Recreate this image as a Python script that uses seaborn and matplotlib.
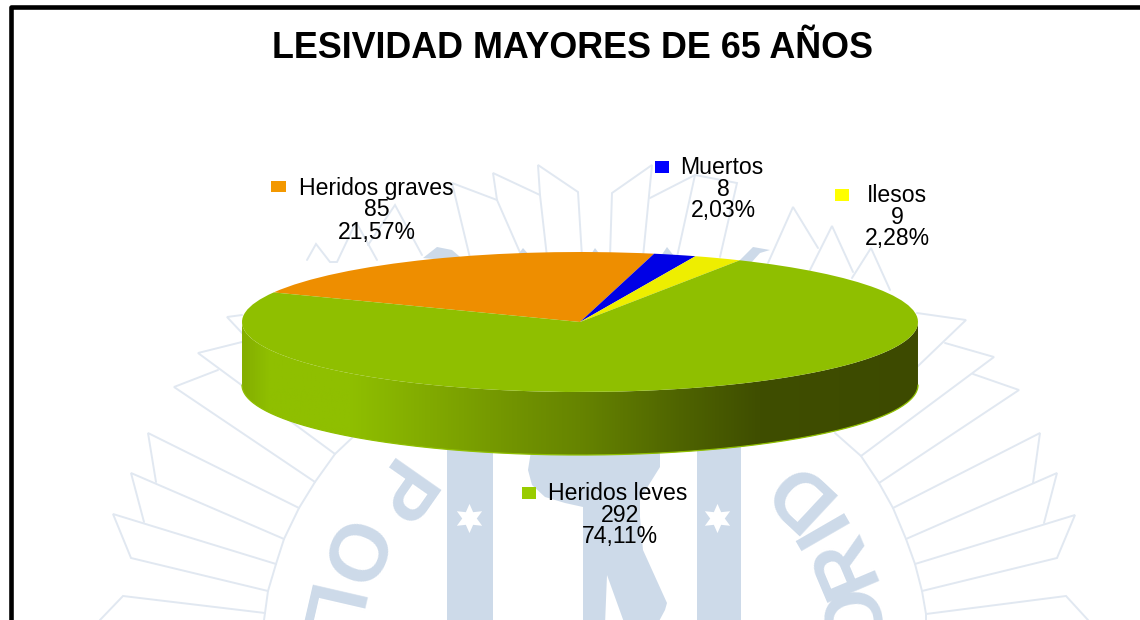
import numpy as np
import seaborn as sns
import matplotlib
matplotlib.use("Agg")
import matplotlib.pyplot as plt
from matplotlib.colors import LinearSegmentedColormap
from matplotlib.patches import PathPatch, Polygon, Rectangle
from matplotlib.path import Path

# ---- data ----
categories = ["Heridos graves", "Muertos", "Ilesos", "Heridos leves"]
counts = [85, 8, 9, 292]
title = "LESIVIDAD MAYORES DE 65 AÑOS"
colors = ["#EE8E00", "#0000E6", "#EEEE00", "#8FBF00"]
key_colors = ["#F39800", "#0000FF", "#FFFF00", "#99CC00"]

sns.set_theme(style="white")
plt.rcParams["font.family"] = ["Liberation Sans", "DejaVu Sans"]
palette = sns.color_palette(colors)
key_palette = sns.color_palette(key_colors)

W, H = 1140, 620
fig = plt.figure(figsize=(W / 100, H / 100), dpi=100, facecolor="white")

# ---- watermark and frame, in pixel coordinates ----
bg = fig.add_axes([0, 0, 1, 1], zorder=0)
bg.set_xlim(0, W)
bg.set_ylim(H, 0)
bg.axis("off")
LINE = "#E1E8F1"
BLUE = "#CDDAE9"
rays = [
    [(242, 315), (227, 317), (242, 333)],
    [(242, 342), (198, 353), (335, 454)],
    [(218, 370), (174, 387), (315, 482)],
    [(156, 482), (148, 433), (299, 508)],
    [(144, 522), (131, 473), (284, 539)],
    [(268, 591), (131, 558), (113, 514), (276, 564)],
    [(100, 620), (123, 596), (265, 613)],
    [(353, 437), (335, 454), (315, 482), (299, 508), (284, 539), (276, 564),
     (268, 591), (265, 613), (264, 620)],
    [(917, 313), (966, 320), (917, 367)],
    [(945, 343), (994, 357), (861, 456)],
    [(973, 374), (1019, 390), (879, 483)],
    [(1033, 483), (1040, 433), (893, 508)],
    [(1044, 523), (1057, 473), (906, 539)],
    [(922, 591), (1057, 558), (1075, 515), (915, 564)],
    [(1088, 620), (1066, 596), (926, 614)],
    [(835, 433), (861, 456), (879, 483), (893, 508), (906, 539), (915, 564),
     (922, 591), (926, 614), (926, 620)],
    [(307, 260), (316, 244), (330, 262), (337, 262), (356, 222), (377, 260)],
    [(368, 245), (395, 205), (422, 255)],
    [(470, 258), (452, 183), (497, 200), (493, 173), (540, 195), (538, 165),
     (578, 192), (582, 257)],
    [(497, 200), (522, 257)],
    [(540, 195), (547, 257)],
    [(610, 257), (612, 193), (652, 165), (643, 257)],
    [(650, 198), (695, 175), (677, 257)],
    [(695, 175), (737, 183), (720, 257)],
    [(768, 263), (793, 207), (818, 248)],
    [(810, 270), (832, 226), (853, 272)],
    [(852, 278), (871, 248), (890, 290)],
]
for r in rays:
    xs, ys = zip(*r)
    bg.plot(xs, ys, color=LINE, lw=1.4, solid_joinstyle="miter", zorder=1)

bg.add_patch(Rectangle((447, 440), 46, 190, color=BLUE, lw=0, zorder=1))
bg.add_patch(Rectangle((697, 440), 44, 190, color=BLUE, lw=0, zorder=1))
bg.add_patch(Polygon([(532, 445), (528, 470), (532, 485), (545, 497), (565, 503), (583, 507),
                      (583, 625), (605, 625), (607, 575), (625, 625), (657, 625),
                      (665, 610), (667, 603), (643, 550), (640, 517), (640, 500),
                      (650, 483), (660, 467), (660, 445)], color=BLUE, lw=0, zorder=1))
for poly in ([(423, 258), (437, 247), (452, 250), (466, 262)],
             [(738, 262), (753, 247), (770, 250), (760, 253), (750, 264)],
             [(517, 256), (523, 248), (530, 256)],
             [(590, 256), (595, 248), (601, 256)],
             [(661, 256), (667, 247), (674, 256)]):
    bg.add_patch(Polygon(poly, color=BLUE, lw=0, zorder=1))
for sx in (469, 717):
    bg.plot([sx], [518], marker=(6, 1, 0), ms=21, color="white", mew=0, zorder=2)
for ch, cx, cy, rot in [("P", 391, 490, -125), ("O", 347, 551, -113), ("L", 322, 612, -103),
                        ("D", 798, 490, 137), ("I", 822, 523, 120), ("R", 843, 562, 113),
                        ("O", 858, 615, 100)]:
    bg.text(cx, cy, ch, color=BLUE, fontsize=58, fontweight="bold", rotation=rot,
            ha="center", va="center", rotation_mode="anchor", zorder=1)
bg.plot([1140, 11, 11], [7, 7, 620], color="black", lw=3.3,
        solid_joinstyle="round", solid_capstyle="butt", zorder=3, clip_on=False)

# ---- pie: one data unit is the ellipse radius on each axis ----
CX, CY, RX, RY, DEPTH = 580, 322, 338, 70, 63
ax = fig.add_axes([0, 0, 1, 1], zorder=1)
ax.patch.set_alpha(0)
ax.pie(counts, colors=palette, startangle=155, counterclock=False, radius=1,
       wedgeprops=dict(linewidth=0, zorder=3))
ax.axis("off")

# side wall with its shading
d = DEPTH / RY
t = np.linspace(np.pi, 2 * np.pi, 240)
top_x, top_y = np.cos(t), np.sin(t)
verts = np.r_[np.c_[top_x, top_y], np.c_[top_x[::-1], top_y[::-1] - d], [[top_x[0], top_y[0]]]]
wall = Path(verts)
stops = [(242, "#84AE00"), (268, "#8FBF00"), (349, "#8FBF00"), (436, "#80A800"),
         (527, "#6F9000"), (580, "#668400"), (679, "#4F6400"), (759, "#3F4E00"),
         (918, "#3D4A00")]
cmap = LinearSegmentedColormap.from_list(
    "wall", [((x - 242) / (918 - 242), c) for x, c in stops])
im = ax.imshow(np.linspace(0, 1, 512)[None, :], cmap=cmap, aspect="auto",
               extent=(-1, 1, -1 - d, 0), zorder=2, interpolation="bilinear")
im.set_clip_path(PathPatch(wall, transform=ax.transData))
ax.plot(top_x, top_y - d, color="#8FBF00", lw=0.9, zorder=2.5)
ax.set_aspect("auto")
ax.set_xlim((0 - CX) / RX, (W - CX) / RX)
ax.set_ylim((CY - H) / RY, CY / RY)

# ---- texts ----
fg = fig.add_axes([0, 0, 1, 1], zorder=2)
fg.set_xlim(0, W)
fg.set_ylim(H, 0)
fg.axis("off")
fg.text(573, 58, title, fontsize=25.8, fontweight="bold", color="black",
        ha="center", va="baseline")
total = sum(counts)
LABEL = 16.6
layout = [  # name x-centre, name y, value x-centre, value y, pct y, marker box
    (376.5, 189, 377, 210, 232, (271, 181, 15, 11)),
    (722, 168, 723, 189, 211, (655, 161, 14, 12)),
    (897, 196, 897, 217, 239, (835, 189, 14, 12)),
    (618, 494, 620, 515, 537, (522, 487, 14, 12)),
]
for name, n, col, (nx, ny, vx, vy, py, box) in zip(categories, counts, key_palette, layout):
    pct = f"{100 * n / total:.2f}%".replace(".", ",")
    fg.text(nx, ny, name, fontsize=LABEL, ha="center", va="center", color="black")
    fg.text(vx, vy, str(n), fontsize=LABEL, ha="center", va="center", color="black")
    fg.text(vx, py, pct, fontsize=LABEL, ha="center", va="center", color="black")
    fg.add_patch(Rectangle(box[:2], box[2], box[3], color=col, lw=0))

fig.savefig("out.png", dpi=100, facecolor="white")
